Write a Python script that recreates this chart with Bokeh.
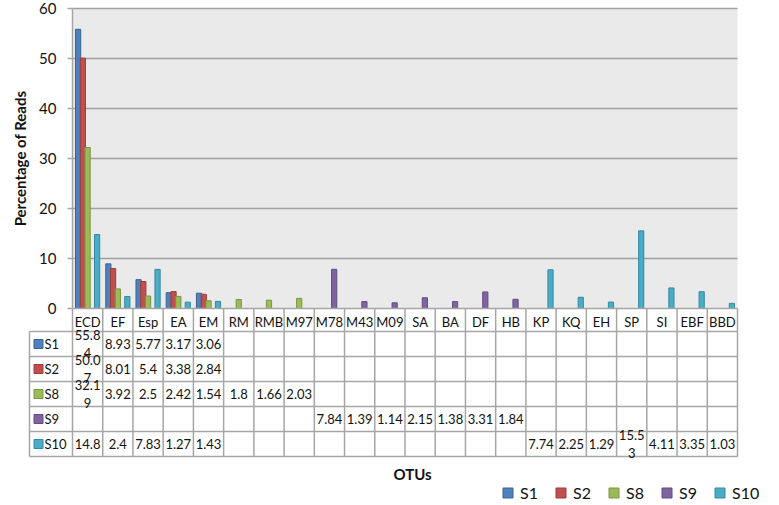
from bokeh.plotting import figure
from bokeh.models import Range1d, FixedTicker, Legend, LegendItem
from bokeh.embed import file_html
from bokeh.resources import INLINE
from bokeh.core.properties import value

# ---------------- data ----------------
categories = ["ECD", "EF", "Esp", "EA", "EM", "RM", "RMB", "M97", "M78", "M43", "M09",
              "SA", "BA", "DF", "HB", "KP", "KQ", "EH", "SP", "SI", "EBF", "BBD"]
series_names = ["S1", "S2", "S8", "S9", "S10"]
S1 = [55.84, 8.93, 5.77, 3.17, 3.06, None, None, None, None, None, None,
      None, None, None, None, None, None, None, None, None, None, None]
S2 = [50.07, 8.01, 5.4, 3.38, 2.84, None, None, None, None, None, None,
      None, None, None, None, None, None, None, None, None, None, None]
S8 = [32.19, 3.92, 2.5, 2.42, 1.54, 1.8, 1.66, 2.03, None, None, None,
      None, None, None, None, None, None, None, None, None, None, None]
S9 = [None, None, None, None, None, None, None, None, 7.84, 1.39, 1.14,
      2.15, 1.38, 3.31, 1.84, None, None, None, None, None, None, None]
S10 = [14.8, 2.4, 7.83, 1.27, 1.43, None, None, None, None, None, None,
       None, None, None, None, 7.74, 2.25, 1.29, 15.53, 4.11, 3.35, 1.03]
series_values = [S1, S2, S8, S9, S10]
y_ticks = [0, 10, 20, 30, 40, 50, 60]
y_max = 60

# ---------------- style / layout ----------------
fills = ["#4F81BD", "#C0504D", "#9BBB59", "#8064A2", "#4BACC6"]
edges = ["#3A6594", "#9A3D3A", "#7A9444", "#634C80", "#3589A0"]
FONT_NAME = "Lato"
FONT = value(FONT_NAME)
LINE = "#A6A6A6"
GRID = "#A0A0A0"
PLOT_BG = "#EAEAEA"
TXT = "#111111"

n = len(categories)
nrows = len(series_names)
W, H = 779, 505
# pixel geometry (figure coordinates)
PL, PR = 72, 737            # plot area left / right
PT, PB = 8, 308             # plot area top (y=60) / bottom (y=0)
FL, FR = 0, W               # frame left / right
FT, FB = 0, H               # frame top / bottom
HDR, ROW = 23, 25           # header row / body row heights (px)
COL = (PR - PL) / n         # px per category
KY = (PB - PT) / y_max      # px per value unit

x_start = -0.5 - (PL - FL) / COL
x_end = n - 0.5 + (FR - PR) / COL
y_start = -(FB - PB) / KY
y_end = y_max + (PT - FT) / KY


def px_x(px):
    return -0.5 + (px - PL) / COL


def px_y(py):
    return -(py - PB) / KY


offsets = [-0.314, -0.157, 0.0, 0.157, 0.314]
bar_w = 0.172

p = figure(width=W, height=H, x_range=Range1d(x_start, x_end), y_range=Range1d(y_start, y_end),
           toolbar_location=None, output_backend="svg",
           min_border_left=FL, min_border_right=W - FR, min_border_top=FT,
           min_border_bottom=H - FB,
           background_fill_color="white", border_fill_color="white", outline_line_color=None)
p.grid.visible = False

# plot-area background and grid lines
p.quad(left=[-0.5], right=[n - 0.5], bottom=[0], top=[y_max], fill_color=PLOT_BG, line_color=None)
p.segment(x0=-0.5, x1=n - 0.5, y0=y_ticks[1:], y1=y_ticks[1:], line_color=GRID, line_width=1.5)

# bars
for k, vals in enumerate(series_values):
    xs = [i + offsets[k] for i, v in enumerate(vals) if v is not None]
    tops = [v for v in vals if v is not None]
    p.vbar(x=xs, top=tops, bottom=0, width=bar_w, fill_color=fills[k],
           line_color=edges[k], line_width=1)

# y axis at the plot-area left edge
ya = p.yaxis[0]
ya.fixed_location = -0.5
ya.bounds = (0, y_max)
ya.ticker = FixedTicker(ticks=y_ticks, minor_ticks=[])
ya.axis_label = "Percentage of Reads"
ya.axis_label_text_font = FONT_NAME
ya.axis_label_text_font_size = "15px"
ya.axis_label_text_font_style = "bold"
ya.axis_label_text_color = TXT
ya.axis_label_standoff = 7
ya.major_label_text_font = FONT_NAME
ya.major_label_text_font_size = "15px"
ya.major_label_text_color = TXT
ya.major_label_standoff = 11
ya.major_tick_out = 5
ya.major_tick_in = 0
ya.minor_tick_line_color = None
ya.axis_line_color = LINE
ya.axis_line_width = 1.5
ya.major_tick_line_color = LINE
ya.major_tick_line_width = 1.5

# x axis at y = 0: category names form the table header row
xa = p.xaxis[0]
xa.fixed_location = 0
xa.bounds = (-0.5, n - 0.5)
xa.ticker = FixedTicker(ticks=list(range(n)), minor_ticks=[])
xa.major_label_overrides = {i: c for i, c in enumerate(categories)}
xa.major_label_text_font = FONT_NAME
xa.major_label_text_font_size = "13px"
xa.major_label_text_color = TXT
xa.major_label_standoff = 5
xa.major_tick_line_color = None
xa.major_tick_out = 0
xa.major_tick_in = 0
xa.minor_tick_line_color = None
xa.axis_line_color = LINE
xa.axis_line_width = 1.5

# ---------------- data table ----------------
y_hdr = px_y(PB + HDR)
row_edges = [px_y(PB + HDR + ROW * r) for r in range(nrows + 1)]
label_left = px_x(29)
bounds_x = [i - 0.5 for i in range(n + 1)]
# header row verticals
p.segment(x0=bounds_x, y0=0, x1=bounds_x, y1=y_hdr, line_color=LINE, line_width=1.5)
# body verticals
vx = [label_left] + bounds_x
p.segment(x0=vx, y0=y_hdr, x1=vx, y1=row_edges[-1], line_color=LINE, line_width=1.5)
# body horizontals
p.segment(x0=label_left, y0=row_edges, x1=n - 0.5, y1=row_edges, line_color=LINE, line_width=1.5)

legend_items = []
for k, (name, vals) in enumerate(zip(series_names, series_values)):
    yc = (row_edges[k] + row_edges[k + 1]) / 2
    r = p.scatter(x=[px_x(38)], y=[yc], marker="square", size=9,
                  fill_color=fills[k], line_color=edges[k], line_width=1)
    legend_items.append(LegendItem(label=name, renderers=[r]))
    p.text(x=[px_x(44)], y=[yc], text=[name], text_font=FONT,
           text_font_size="13px", text_color=TXT, text_align="left", text_baseline="middle")
    xs, ys, labels = [], [], []
    for i, v in enumerate(vals):
        if v is None:
            continue
        s = f"{v:g}"
        if len(s) > 4:
            s = s[:4] + "\n" + s[4:]
        xs.append(i)
        ys.append(yc)
        labels.append(s)
    p.text(x=xs, y=ys, text=labels, text_font=FONT, text_font_size="13px",
           text_color=TXT, text_align="center", text_baseline="middle", text_line_height=1.15)

# x-axis title
p.text(x=[px_x(412)], y=[px_y(473)], text=["OTUs"], text_font=FONT, text_font_size="15px",
       text_font_style="bold", text_color=TXT, text_align="center", text_baseline="middle")

legend = Legend(items=legend_items, orientation="horizontal", location=(495 - FL, 0),
                padding=0, margin=0, spacing=8, glyph_width=25, glyph_height=25,
                label_standoff=-4, label_width=20, label_height=16, label_text_font=FONT_NAME,
                label_text_font_size="16px", label_text_color=TXT,
                border_line_color=None, background_fill_alpha=0)
p.add_layout(legend)

open("out.html", "w").write(file_html(p, INLINE))
